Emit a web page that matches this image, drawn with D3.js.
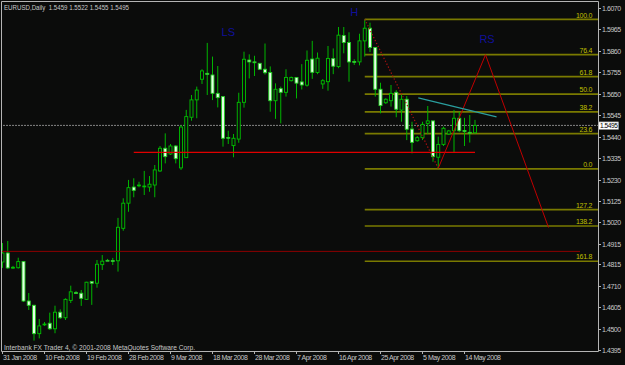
<!DOCTYPE html>
<html>
<head>
<meta charset="utf-8">
<script src="https://cdn.jsdelivr.net/npm/d3@7"></script>
<style>
  html, body { margin: 0; padding: 0; background: #0b0c0b; }
  svg { display: block; }
  text { font-family: "Liberation Sans", Arial, sans-serif; }
</style>
</head>
<body>
<svg id="chart" width="625" height="365"></svg>
<script>
// EURUSD daily bars (Interbank FX, Sunday bars included)
const dates = [
  '2008-01-31', '2008-02-01', '2008-02-03', '2008-02-04', '2008-02-05', '2008-02-06', '2008-02-07', '2008-02-08',
  '2008-02-10', '2008-02-11', '2008-02-12', '2008-02-13', '2008-02-14', '2008-02-15', '2008-02-17', '2008-02-18',
  '2008-02-19', '2008-02-20', '2008-02-21', '2008-02-22', '2008-02-24', '2008-02-25', '2008-02-26', '2008-02-27',
  '2008-02-28', '2008-02-29', '2008-03-02', '2008-03-03', '2008-03-04', '2008-03-05', '2008-03-06', '2008-03-07',
  '2008-03-09', '2008-03-10', '2008-03-11', '2008-03-12', '2008-03-13', '2008-03-14', '2008-03-16', '2008-03-17',
  '2008-03-18', '2008-03-19', '2008-03-20', '2008-03-23', '2008-03-24', '2008-03-25', '2008-03-26', '2008-03-27',
  '2008-03-28', '2008-03-30', '2008-03-31', '2008-04-01', '2008-04-02', '2008-04-03', '2008-04-04', '2008-04-06',
  '2008-04-07', '2008-04-08', '2008-04-09', '2008-04-10', '2008-04-11', '2008-04-13', '2008-04-14', '2008-04-15',
  '2008-04-16', '2008-04-17', '2008-04-18', '2008-04-20', '2008-04-21', '2008-04-22', '2008-04-23', '2008-04-24',
  '2008-04-25', '2008-04-27', '2008-04-28', '2008-04-29', '2008-04-30', '2008-05-01', '2008-05-02', '2008-05-04',
  '2008-05-05', '2008-05-06', '2008-05-07', '2008-05-08', '2008-05-09', '2008-05-11', '2008-05-12', '2008-05-13',
  '2008-05-14', '2008-05-15', '2008-05-16'
]

const open = [
  1.4826, 1.4870, 1.4797, 1.4798, 1.4828, 1.4635, 1.4614, 1.4475, 1.4520, 1.4526,
  1.4499, 1.4580, 1.4553, 1.4638, 1.4676, 1.4673, 1.4643, 1.4730, 1.4722, 1.4813,
  1.4834, 1.4833, 1.4832, 1.4991, 1.5114, 1.5193, 1.5201, 1.5196, 1.5193, 1.5203,
  1.5272, 1.5383, 1.5355, 1.5394, 1.5287, 1.5337, 1.5535, 1.5620, 1.5721, 1.5750,
  1.5742, 1.5652, 1.5636, 1.5436, 1.5396, 1.5428, 1.5608, 1.5815, 1.5806, 1.5799,
  1.5770, 1.5754, 1.5616, 1.5675, 1.5657, 1.5714, 1.5730, 1.5708, 1.5692, 1.5820,
  1.5754, 1.5698, 1.5709, 1.5822, 1.5783, 1.5935, 1.5901, 1.5808, 1.5806, 1.5909,
  1.5971, 1.5877, 1.5672, 1.5606, 1.5616, 1.5657, 1.5570, 1.5623, 1.5477, 1.5420,
  1.5435, 1.5505, 1.5517, 1.5339, 1.5402, 1.5453, 1.5469, 1.5530, 1.5470, 1.5461,
  1.5459
]
const high = [
  1.4919, 1.4929, 1.4807, 1.4847, 1.4831, 1.4674, 1.4616, 1.4547, 1.4532, 1.4578,
  1.4612, 1.4594, 1.4648, 1.4710, 1.4684, 1.4689, 1.4729, 1.4733, 1.4836, 1.4860,
  1.4841, 1.4846, 1.5042, 1.5138, 1.5228, 1.5236, 1.5219, 1.5272, 1.5247, 1.5301,
  1.5394, 1.5456, 1.5404, 1.5399, 1.5497, 1.5571, 1.5644, 1.5685, 1.5770, 1.5899,
  1.5832, 1.5786, 1.5636, 1.5469, 1.5453, 1.5655, 1.5856, 1.5843, 1.5836, 1.5801,
  1.5896, 1.5784, 1.5701, 1.5685, 1.5770, 1.5734, 1.5732, 1.5795, 1.5862, 1.5909,
  1.5852, 1.5722, 1.5884, 1.5872, 1.5977, 1.5977, 1.5951, 1.5819, 1.5944, 1.6015,
  1.5998, 1.5878, 1.5704, 1.5628, 1.5693, 1.5668, 1.5644, 1.5639, 1.5513, 1.5443,
  1.5513, 1.5590, 1.5517, 1.5440, 1.5489, 1.5473, 1.5571, 1.5562, 1.5532, 1.5546,
  1.5522
]
const low = [
  1.4797, 1.4792, 1.4792, 1.4794, 1.4630, 1.4591, 1.4441, 1.4452, 1.4513, 1.4493,
  1.4477, 1.4547, 1.4542, 1.4625, 1.4670, 1.4611, 1.4640, 1.4616, 1.4700, 1.4787,
  1.4831, 1.4811, 1.4779, 1.4979, 1.5072, 1.5143, 1.5192, 1.5154, 1.5170, 1.5143,
  1.5267, 1.5309, 1.5350, 1.5309, 1.5277, 1.5335, 1.5518, 1.5530, 1.5698, 1.5644,
  1.5619, 1.5583, 1.5391, 1.5404, 1.5339, 1.5410, 1.5582, 1.5725, 1.5737, 1.5766,
  1.5744, 1.5562, 1.5527, 1.5505, 1.5636, 1.5710, 1.5627, 1.5671, 1.5685, 1.5723,
  1.5746, 1.5674, 1.5665, 1.5746, 1.5775, 1.5848, 1.5709, 1.5791, 1.5789, 1.5832,
  1.5854, 1.5636, 1.5554, 1.5600, 1.5587, 1.5535, 1.5513, 1.5423, 1.5358, 1.5415,
  1.5423, 1.5453, 1.5317, 1.5285, 1.5394, 1.5448, 1.5361, 1.5462, 1.5394, 1.5411,
  1.5455
]
const close = [
  1.4870, 1.4797, 1.4800, 1.4828, 1.4635, 1.4614, 1.4475, 1.4513, 1.4522, 1.4499,
  1.4580, 1.4553, 1.4643, 1.4680, 1.4674, 1.4648, 1.4727, 1.4722, 1.4815, 1.4830,
  1.4833, 1.4832, 1.4996, 1.5114, 1.5190, 1.5177, 1.5203, 1.5198, 1.5207, 1.5277,
  1.5383, 1.5342, 1.5394, 1.5332, 1.5487, 1.5538, 1.5620, 1.5668, 1.5762, 1.5745,
  1.5652, 1.5631, 1.5432, 1.5435, 1.5432, 1.5608, 1.5819, 1.5806, 1.5804, 1.5770,
  1.5753, 1.5616, 1.5672, 1.5657, 1.5730, 1.5730, 1.5702, 1.5693, 1.5814, 1.5755,
  1.5824, 1.5714, 1.5823, 1.5785, 1.5937, 1.5901, 1.5806, 1.5806, 1.5909, 1.5971,
  1.5877, 1.5672, 1.5592, 1.5623, 1.5652, 1.5574, 1.5623, 1.5476, 1.5412, 1.5435,
  1.5500, 1.5517, 1.5342, 1.5402, 1.5481, 1.5468, 1.5530, 1.5469, 1.5465, 1.5459,
  1.5495
]

const priceTicks = ['1.6070', '1.5965', '1.5860', '1.5755', '1.5650', '1.5545', '1.5440', '1.5335', '1.5230',
  '1.5125', '1.5020', '1.4915', '1.4815', '1.4710', '1.4605', '1.4500', '1.4395']
const dateTicks = ['2008-01-31', '2008-02-10', '2008-02-19', '2008-02-28', '2008-03-09', '2008-03-18',
  '2008-03-28', '2008-04-07', '2008-04-16', '2008-04-25', '2008-05-05', '2008-05-14']

// Fibonacci retracement: anchors as [bar index, price]
const fibFrom = [69, 1.5282]
const fibTo = [69, 1.6014]
const fibRatios = [1.0, 0.764, 0.618, 0.5, 0.382, 0.236, 0.0, -0.272, -0.382, -0.618]
const fibLabels = ['100.0', '76.4', '61.8', '50.0', '38.2', '23.6', '0.0', '127.2', '138.2', '161.8']

// objects drawn on the chart, as [bar index, price]
const headDotted = [[69, 1.6015], [83, 1.5285]]
const rsProjection = [[83, 1.5285], [92, 1.5841], [104, 1.4995]]
const neckline = [[25, 1.5363], [90, 1.5363]]
const supportLine = [[-1, 1.4878], [110, 1.4878]]
const trendLine = [[79.2, 1.5630], [94.1, 1.5537]]
const patternLabels = [['LS', 43, 1.5935], ['H', 67, 1.6032], ['RS', 92.3, 1.5897]]

const symbolText = 'EURUSD,Daily  1.5459 1.5522 1.5455 1.5495'
const lastPrice = 1.5495
const brokerText = 'Interbank FX Trader 4, \u00a9 2001-2008 MetaQuotes Software Corp.'

const width = 625
const height = 365
const plotRight = 598
const plotBottom = 351
const fg = '#c8c8c8'

const svg = d3.select('#chart')
const x = d3.scaleLinear().domain([0, 100]).range([2.5, 527.5])
const y = d3.scaleLinear().domain([1.4395, 1.6070]).range([350, 8])
const line = d3.line().x(d => x(d[0])).y(d => y(d[1]))

svg.append('rect')
  .attr('width', width)
  .attr('height', height)
  .style('fill', '#0b0c0b')

svg.append('defs').append('clipPath')
  .attr('id', 'plotClip')
  .append('rect')
  .attr('x', 2)
  .attr('y', 2)
  .attr('width', plotRight - 2)
  .attr('height', plotBottom - 2)

const plot = svg.append('g').attr('clip-path', 'url(#plotClip)')

// fibonacci levels (behind the bars)
const fibRange = fibTo[1] - fibFrom[1]
const fib = plot.append('g')
fibRatios.forEach((r, k) => {
  const py = y(fibFrom[1] + r * fibRange)
  fib.append('line')
    .attr('x1', x(fibFrom[0]))
    .attr('x2', plotRight)
    .attr('y1', py)
    .attr('y2', py)
    .style('stroke', '#7a7a00')
    .style('stroke-width', 1.7)
  fib.append('text')
    .text(fibLabels[k])
    .attr('x', plotRight - 6)
    .attr('y', py - 1.8)
    .attr('text-anchor', 'end')
    .attr('font-size', '7px')
    .style('letter-spacing', '-0.3px')
    .style('fill', '#c0c000')
})

// bid line
plot.append('line')
  .attr('x1', 0)
  .attr('x2', plotRight)
  .attr('y1', y(lastPrice))
  .attr('y2', y(lastPrice))
  .style('stroke', '#858585')
  .style('stroke-width', 1)
  .style('stroke-dasharray', '2,1')

// candles
const candles = plot.append('g')
  .selectAll('g')
  .data(dates)
  .join('g')

candles.append('line')
  .attr('x1', (d, i) => x(i))
  .attr('x2', (d, i) => x(i))
  .attr('y1', (d, i) => y(high[i]))
  .attr('y2', (d, i) => y(low[i]))
  .style('stroke', '#00b400')
  .style('stroke-width', 1)

candles.append('rect')
  .attr('x', (d, i) => x(i) - 1.5)
  .attr('width', 3)
  .attr('y', (d, i) => y(Math.max(open[i], close[i])))
  .attr('height', (d, i) => Math.max(0.8, Math.abs(y(open[i]) - y(close[i]))))
  .style('fill', (d, i) => close[i] >= open[i] ? '#0b0c0b' : '#e4ffe4')
  .style('stroke', (d, i) => close[i] >= open[i] ? '#00c000' : '#22cc22')
  .style('stroke-width', 0.9)

// drawn objects
plot.append('path')
  .attr('d', line(supportLine))
  .style('fill', 'none')
  .style('stroke', '#8c0000')
  .style('stroke-width', 1)

plot.append('path')
  .attr('d', line(neckline))
  .style('fill', 'none')
  .style('stroke', '#e00000')
  .style('stroke-width', 1.3)

plot.append('path')
  .attr('d', line(headDotted))
  .style('fill', 'none')
  .style('stroke', '#b01010')
  .style('stroke-width', 1.2)
  .style('stroke-dasharray', '1.3,2')

plot.append('path')
  .attr('d', line(rsProjection))
  .style('fill', 'none')
  .style('stroke', '#c00000')
  .style('stroke-width', 1)

plot.append('path')
  .attr('d', line(trendLine))
  .style('fill', 'none')
  .style('stroke', '#2a9e9e')
  .style('stroke-width', 1.2)

plot.selectAll('.pattern')
  .data(patternLabels)
  .join('text')
  .attr('class', 'pattern')
  .text(d => d[0])
  .attr('x', d => x(d[1]))
  .attr('y', d => y(d[2]))
  .attr('text-anchor', 'middle')
  .attr('font-size', '11px')
  .style('fill', '#10109a')

// frame and axes
svg.append('path')
  .attr('d', `M1.5,${plotBottom + 0.5}V1.5H${plotRight + 0.5}V${plotBottom + 0.5}Z`)
  .style('fill', 'none')
  .style('stroke', '#b4b4b4')
  .style('stroke-width', 1)

const yAxis = svg.append('g')
priceTicks.forEach(t => {
  const py = Math.round(y(+t)) + 0.5
  yAxis.append('line')
    .attr('x1', plotRight)
    .attr('x2', plotRight + 3)
    .attr('y1', py)
    .attr('y2', py)
    .style('stroke', '#b4b4b4')
  yAxis.append('text')
    .text(t)
    .attr('x', plotRight + 4)
    .attr('y', py)
    .attr('dy', '0.35em')
    .attr('font-size', '7px')
    .style('letter-spacing', '-0.45px')
    .style('fill', fg)
})

// last price marker
const lp = y(lastPrice)
svg.append('rect')
  .attr('x', plotRight + 0.5)
  .attr('y', lp - 3.5)
  .attr('width', 20)
  .attr('height', 7.5)
  .style('fill', '#ffffff')
  .style('stroke', '#9a9a9a')
  .style('stroke-width', 0.6)
svg.append('text')
  .text(lastPrice.toFixed(4))
  .attr('x', plotRight + 2)
  .attr('y', lp)
  .attr('dy', '0.35em')
  .attr('font-size', '6.6px')
  .style('letter-spacing', '-0.45px')
  .style('fill', '#000000')

const fmt = d3.timeFormat('%-d %b %Y')
const parse = d3.timeParse('%Y-%m-%d')
const xAxis = svg.append('g')
dateTicks.forEach(dt => {
  const px = Math.round(x(dates.indexOf(dt)) - 0.8) + 0.5
  xAxis.append('line')
    .attr('x1', px)
    .attr('x2', px)
    .attr('y1', plotBottom)
    .attr('y2', plotBottom + 3)
    .style('stroke', '#b4b4b4')
  xAxis.append('text')
    .text(fmt(parse(dt)))
    .attr('x', px + 0.5)
    .attr('y', 359.5)
    .attr('font-size', '7px')
    .style('letter-spacing', '-0.45px')
    .style('fill', fg)
})

svg.append('text')
  .text(symbolText)
  .attr('x', 4)
  .attr('y', 9.5)
  .attr('font-size', '7px')
  .attr('textLength', 125)
  .attr('lengthAdjust', 'spacingAndGlyphs')
  .style('white-space', 'pre')
  .style('fill', fg)

svg.append('text')
  .text(brokerText)
  .attr('x', 4)
  .attr('y', 349.5)
  .attr('font-size', '7px')
  .attr('textLength', 191)
  .attr('lengthAdjust', 'spacingAndGlyphs')
  .style('fill', fg)
</script>
</body>
</html>
